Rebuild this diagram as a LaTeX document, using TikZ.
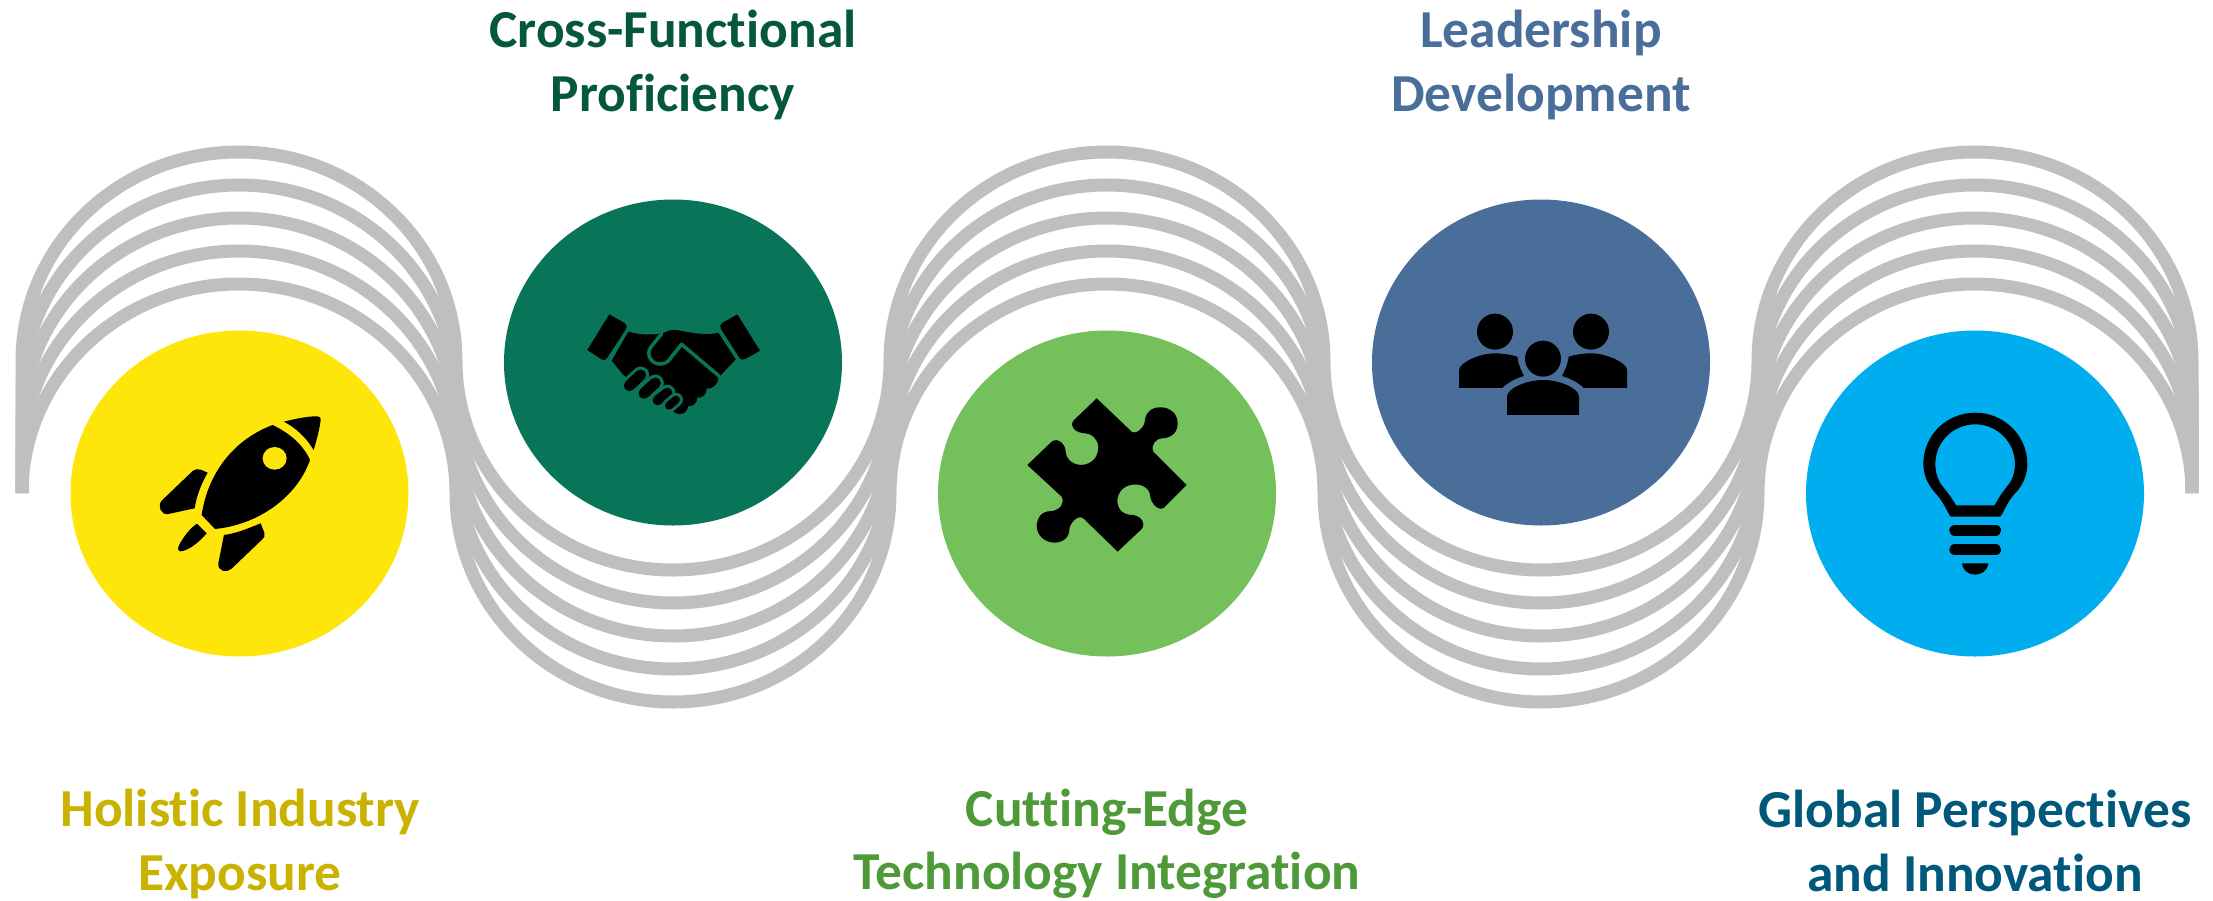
\documentclass[tikz,border=0pt]{standalone}
\usepackage{fontspec}
\setmainfont[Ligatures=NoCommon]{Carlito}
\usetikzlibrary{shapes.geometric}
\definecolor{arcgray}{HTML}{BFBFBF}
\definecolor{cyellow}{HTML}{FFE60A}
\definecolor{cteal}{HTML}{087558}
\definecolor{cgreen}{HTML}{74C05B}
\definecolor{cblue}{HTML}{4A6E9A}
\definecolor{ccyan}{HTML}{00AEEF}
\definecolor{tyellow}{HTML}{C9B300}
\definecolor{tteal}{HTML}{055740}
\definecolor{tgreen}{HTML}{4F9A38}
\definecolor{tblue}{HTML}{4A6E9A}
\definecolor{tcyan}{HTML}{00587A}
\tikzset{
 x=1pt,y=-1pt,
 disc/.style={ellipse,fill=#1,minimum width=338pt,minimum height=326pt,inner sep=0pt,draw=none},
 lab/.style={font=\bfseries\fontsize{53.4}{63.5}\selectfont,align=center,text=#1,inner sep=0pt},
 wave/.style={draw=arcgray,line width=13pt,line join=bevel},
 icon/.style={x=0.3333pt,y=-0.3333pt}
}
\begin{document}
\begin{tikzpicture}
\useasboundingbox (0,0) rectangle (2213,900);
\fill[white] (0,0) rectangle (2213,900);
% five parallel waves, each a copy of the first moved down by 33
\foreach \i in {0,1,2,3,4}{
 \pgfmathsetmacro{\yy}{361+33*\i}
 \draw[wave] (22,493) -- (22,\yy)
  arc[start angle=180,end angle=0,x radius=217,y radius=-209]
  arc[start angle=180,end angle=360,x radius=217,y radius=-209]
  arc[start angle=180,end angle=0,x radius=217,y radius=-209]
  arc[start angle=180,end angle=360,x radius=217,y radius=-209]
  arc[start angle=180,end angle=0,x radius=217,y radius=-209]
  -- (2192,493);
}
% discs
\node[disc=cyellow] (d1) at (239.5,493.5) {};
\node[disc=cteal]   (d2) at (673,362.5) {};
\node[disc=cgreen]  (d3) at (1107,493.5) {};
\node[disc=cblue]   (d4) at (1541,362.5) {};
\node[disc=ccyan]   (d5) at (1975,493.5) {};
% rocket
\begin{scope}[shift={(130,370)},icon]
\fill[black] (428,165) .. controls (480,190) and (520,225) .. (540,270) .. controls (500,385) and (380,465) .. (255,477) -- (215,435) .. controls (235,300) and (320,205) .. (428,165) -- cycle;
\fill[cyellow] (434,265) ellipse [x radius=36,y radius=34];
\fill[black] (462,155) .. controls (500,145) and (540,138) .. (563,139) .. controls (572,140) and (573,145) .. (572,150) .. controls (570,170) and (562,205) .. (551,240) .. controls (530,205) and (500,175) .. (462,155) -- cycle;
\fill[black] (233,308) -- (212,299) .. controls (203,296) and (195,297) .. (188,303) -- (95,392) .. controls (82,408) and (92,436) .. (115,432) -- (194,415) .. controls (200,375) and (215,340) .. (233,308) -- cycle;
\fill[black] (282,495) .. controls (320,490) and (355,475) .. (392,460) -- (403,488) .. controls (406,497) and (403,503) .. (398,507) -- (305,596) .. controls (290,610) and (262,604) .. (265,580) -- (282,495) -- cycle;
\fill[black] (201,461) -- (230,490) .. controls (205,520) and (170,545) .. (150,544) .. controls (140,540) and (145,530) .. (150,520) .. controls (165,495) and (180,475) .. (201,461) -- cycle;
\end{scope}
% handshake
\begin{scope}[shift={(570,290)},icon]
\fill[black] (118,73) -- (165,100) .. controls (171,105) and (171,112) .. (168,117) -- (112,203) .. controls (108,210) and (102,212) .. (96,209) -- (52,180) -- cycle;
\fill[black] (502,73) -- (570,182) -- (526,207) .. controls (518,212) and (512,208) .. (508,203) -- (453,117) .. controls (449,110) and (450,105) .. (455,100) -- cycle;
\fill[black] (175,125) .. controls (210,135) and (240,135) .. (275,131) .. controls (290,125) and (300,118) .. (320,120) .. controls (360,128) and (410,138) .. (445,128) -- (497,208) -- (455,253) -- (445,262) .. controls (445,285) and (425,298) .. (410,296) .. controls (410,315) and (395,325) .. (382,323) .. controls (382,340) and (368,350) .. (355,348) .. controls (352,368) and (335,378) .. (318,370) -- (160,255) -- (125,212) -- cycle;
\draw[cteal,line width=3.5pt,line cap=round,line join=round] (275,131) -- (242,172) .. controls (225,200) and (250,225) .. (275,222) .. controls (290,220) and (300,210) .. (305,200) -- (335,163) -- (447,258);
\foreach \xa/\ya/\xb/\yb/\w in {178/287/212/255/11,222/310/256/279/11,263/331/292/308/10,297/347/318/329/8}{
 \draw[cteal,line width=\w pt+6pt,line cap=round] (\xa,\ya) -- (\xb,\yb);
 \draw[black,line width=\w pt,line cap=round] (\xa,\ya) -- (\xb,\yb);
}
\end{scope}
% puzzle piece
\begin{scope}[shift={(1010,380)},icon]
\fill[black] (260,55) -- (365,155) .. controls (380,165) and (405,140) .. (405,120) .. controls (410,65) and (503,70) .. (503,130) .. controls (503,165) and (475,175) .. (455,175) .. controls (440,175) and (420,195) .. (430,215) -- (530,315) -- (462,383) .. controls (445,395) and (422,370) .. (420,345) .. controls (415,300) and (322,300) .. (322,365) .. controls (325,395) and (345,405) .. (370,405) .. controls (395,410) and (408,430) .. (395,447) -- (323,515) -- (222,417) .. controls (205,400) and (178,430) .. (178,450) .. controls (175,505) and (80,500) .. (80,435) .. controls (85,400) and (105,393) .. (125,393) .. controls (150,390) and (165,370) .. (155,350) -- (52,255) -- (125,185) .. controls (145,170) and (167,195) .. (167,215) .. controls (172,270) and (265,270) .. (265,200) .. controls (262,175) and (245,160) .. (225,160) .. controls (195,158) and (178,140) .. (190,122) -- cycle;
\end{scope}
% people
\begin{scope}[shift={(1440,300)},icon]
\fill[black] (165,95) circle [radius=54];
\fill[black] (453,95) circle [radius=54];
\fill[black] (309,176) circle [radius=54];
\fill[black] (201,345) -- (201,290) .. controls (201,265) and (260,240) .. (309,240) .. controls (360,240) and (417,265) .. (417,290) -- (417,345) -- cycle;
\fill[black] (57,264) -- (57,210) .. controls (57,190) and (115,160) .. (165,160) .. controls (190,160) and (215,165) .. (232,170) .. controls (235,195) and (245,215) .. (252,228) .. controls (225,235) and (200,250) .. (187,264) -- cycle;
\fill[black] (561,264) -- (561,210) .. controls (561,190) and (503,160) .. (453,160) .. controls (428,160) and (403,165) .. (386,170) .. controls (383,195) and (373,215) .. (366,228) .. controls (393,235) and (418,250) .. (431,264) -- cycle;
\end{scope}
% light bulb
\begin{scope}[shift={(1900,400)},icon]
\fill[black,even odd rule] (155,350) -- (297,350) .. controls (302,350) and (304,347) .. (306,343) .. controls (320,315) and (330,295) .. (350,275) .. controls (372,250) and (382,220) .. (382,192) .. controls (382,105) and (310,38) .. (226,38) .. controls (140,38) and (70,105) .. (70,192) .. controls (70,220) and (80,250) .. (105,278) .. controls (125,300) and (135,320) .. (147,343) .. controls (149,348) and (152,350) .. (155,350) -- cycle
 (168,316) -- (284,316) .. controls (295,295) and (305,280) .. (322,258) .. controls (338,240) and (345,215) .. (345,192) .. controls (345,125) and (290,73) .. (226,73) .. controls (160,73) and (106,125) .. (106,192) .. controls (106,215) and (112,240) .. (130,262) .. controls (145,280) and (158,298) .. (168,316) -- cycle;
\draw[black,line width=11.5pt,line cap=round] (165,391) -- (286,391);
\draw[black,line width=11.5pt,line cap=round] (165,449) -- (286,449);
\fill[black] (186,490) -- (265,490) .. controls (262,512) and (245,524) .. (225,524) .. controls (205,524) and (189,512) .. (186,490) -- cycle;
\end{scope}
% labels
\node[lab=tyellow] (l1) at (240,844) {Holistic Industry\\Exposure};
\node[lab=tteal]   (l2) at (673,65) {Cross-Functional\\Proficiency};
\node[lab=tgreen]  (l3) at (1107,844) {Cutting-Edge\\Technology Integration};
\node[lab=tblue]   (l4) at (1541,65) {Leadership\\Development};
\node[lab=tcyan]   (l5) at (1975,841) {Global Perspectives\\and Innovation};
\end{tikzpicture}
\end{document}
